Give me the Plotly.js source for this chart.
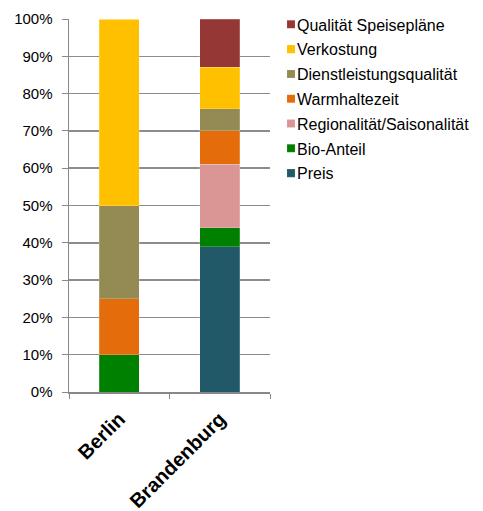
<!DOCTYPE html>
<html>
<head>
<meta charset="utf-8">
<script src="https://cdn.plot.ly/plotly-3.0.1.min.js"></script>
<style>html,body{margin:0;padding:0;background:#fff;}#chart{width:483px;height:511px;}</style>
</head>
<body>
<div id="chart"></div>
<script>
// Regions on the x axis
const regions = ['Berlin', 'Brandenburg'];

// Share of each criterion (%), stacked bottom to top
const preis = [0, 39];
const bioAnteil = [10, 5];
const regionalitaet = [0, 17];
const warmhaltezeit = [15, 9];
const dienstleistung = [25, 6];
const verkostung = [50, 11];
const qualitaetSpeiseplaene = [0, 13];

const yTicks = [0, 10, 20, 30, 40, 50, 60, 70, 80, 90, 100];
const yTickLabels = yTicks.map(v => v + '%');

const series = [
  {name: 'Preis', y: preis, color: '#215968'},
  {name: 'Bio-Anteil', y: bioAnteil, color: '#008000'},
  {name: 'Regionalität/Saisonalität', y: regionalitaet, color: '#D99694'},
  {name: 'Warmhaltezeit', y: warmhaltezeit, color: '#E46C0A'},
  {name: 'Dienstleistungsqualität', y: dienstleistung, color: '#948A54'},
  {name: 'Verkostung', y: verkostung, color: '#FFC000'},
  {name: 'Qualität Speisepläne', y: qualitaetSpeiseplaene, color: '#953735'}
];

// top of the stack is listed first in the legend
const traces = series.map((s, i) => ({
  type: 'bar',
  name: s.name,
  legendgroup: 'g' + i,
  legendrank: (series.length - i) * 10,
  x: regions,
  y: s.y,
  marker: {color: s.color, line: {color: 'rgba(255,255,255,0.4)', width: 0.5}},
  hoverinfo: 'name+y'
}));

const font = 'Liberation Sans, Arial, sans-serif';
const legendTextLeft = 297; // px where legend labels start
const plotLeft = 69, plotWidth = 201;

const layout = {
  width: 483,
  height: 511,
  barmode: 'stack',
  bargap: 0.6,
  margin: {l: plotLeft, r: 483 - plotLeft - plotWidth, t: 19, b: 119, autoexpand: false},
  paper_bgcolor: '#fff',
  plot_bgcolor: '#fff',
  font: {family: font, size: 15, color: '#000'},
  xaxis: {
    type: 'category',
    showline: true,
    linecolor: '#888',
    linewidth: 1.5,
    ticks: 'outside',
    tickson: 'boundaries',
    ticklen: 5,
    tickcolor: '#888',
    tickangle: -45,
    ticklabelstandoff: 6,
    tickfont: {family: font, size: 20, color: '#000', weight: 'bold'},
    showgrid: false,
    automargin: false,
    fixedrange: true
  },
  yaxis: {
    range: [0, 100],
    tickvals: yTicks,
    ticktext: yTickLabels,
    showline: true,
    linecolor: '#888',
    linewidth: 1.5,
    ticks: 'outside',
    ticklen: 6,
    tickcolor: '#888',
    ticklabelstandoff: 6,
    showgrid: true,
    gridcolor: '#8c8c8c',
    gridwidth: 1.5,
    zeroline: false,
    automargin: false,
    tickfont: {family: font, size: 15, color: '#000'},
    fixedrange: true
  },
  showlegend: true,
  legend: {
    x: 0.9,
    y: 1.031,
    xanchor: 'left',
    yanchor: 'top',
    traceorder: 'grouped',
    font: {family: font, size: 16, color: '#000'},
    itemwidth: 30,
    tracegroupgap: 1,
    bgcolor: 'rgba(0,0,0,0)'
  }
};

function styleSwatches(gd) {
  // small square swatches just before each label
  gd.querySelectorAll('.legend .traces').forEach(g => {
    const txt = g.querySelector('.legendtext');
    const tx = parseFloat(txt.getAttribute('x')) || 40;
    g.querySelectorAll('.legendpoints path').forEach(p => {
      p.setAttribute('transform', 'translate(' + (tx - 6) + ',0) scale(0.67)');
    });
  });
}

Plotly.newPlot('chart', traces, layout, {displayModeBar: false, staticPlot: true}).then(gd => {
  // line the legend labels up at a fixed pixel column
  const txt = gd.querySelector('.legend .legendtext');
  const left = txt.getBoundingClientRect().left - gd.getBoundingClientRect().left;
  const shift = legendTextLeft - left;
  return Plotly.relayout(gd, {'legend.x': layout.legend.x + shift / plotWidth});
}).then(gd => styleSwatches(gd));
</script>
</body>
</html>
